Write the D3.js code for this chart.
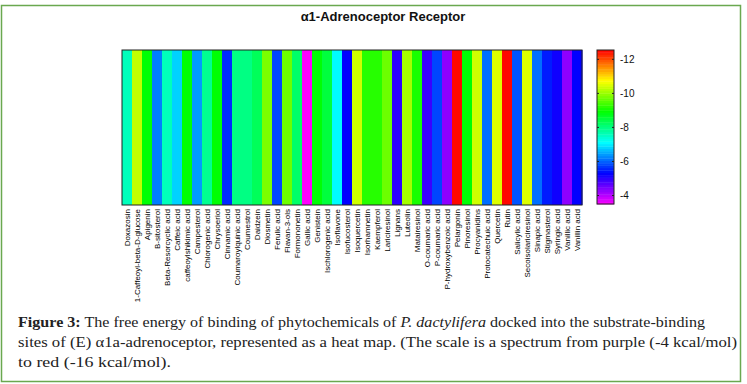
<!DOCTYPE html>
<html>
<head>
<meta charset="utf-8">
<script src="https://cdn.jsdelivr.net/npm/d3@7"></script>
<style>
body{margin:0;background:#fff;}
svg text{font-family:"Liberation Sans",Arial,sans-serif;}
svg .cap text{font-family:"Liberation Serif","Times New Roman",serif;font-size:15px;fill:#222;}
</style>
</head>
<body>
<div id="chart"></div>
<script>
var compounds = ["Doxazosin","1-Caffeoyl-beta-D-glucose","Apigenin","B-sitosterol","Beta-Resorcyclic acid",
  "Caffeic acid","caffeoylshikimic acid","Campesterol","Chlorogenic acid","Chrysoeriol","Cinnamic acid",
  "Coumaroylquinic acid","Coumestrol","Daidzein","Diosmetin","Ferulic acid","Flavan-3-ols","Formononetin",
  "Gallic acid","Genistein","Ischlorogenic acid","Isoflavone","Isofucosterol","Isoquercetin","Isorhamnetin",
  "Kaempferol","Lariciresinol","Lignans","Luteolin","Matairesinol","O-coumaric acid","P-coumaric acid",
  "P-hydroxybenzoic acid","Pelargonin","Pinoresinol","Procyanidins","Protocatechuic acid","Quercetin","Rutin",
  "Salicylic acid","Secoisolariciresinol","Sinapic acid","Stigmasterol","Syringic acid","Vanillic acid","Vanillin acid"];
// binding energy, kcal/mol
var energies = [-7.6,-10.3,-8.9,-6.2,-7.6,-6.8,-8.9,-6.4,-7.9,-8.9,-5.6,
  -8.0,-8.0,-8.3,-9.8,-5.8,-9.7,-8.2,-3.5,-8.9,-8.5,-7.1,-5.3,-10.4,-9.2,
  -9.2,-9.7,-5.0,-10.1,-9.1,-4.9,-5.8,-4.3,-12.5,-8.9,-10.4,-6.1,-10.5,-12.5,
  -5.9,-10.5,-6.1,-5.5,-5.2,-4.3,-5.3];
var cbarTicks = [-12,-10,-8,-6,-4];
var cbarDomain = [-3.5,-12.55];

var W = 747, H = 384;
var plot = {left:122, top:50, right:582, bottom:205};

var svg = d3.select("#chart").append("svg")
  .attr("width",W).attr("height",H);

// outer green frame
svg.append("rect")
  .attr("x",1.5).attr("y",5.5).attr("width",739).attr("height",376)
  .attr("fill","none").attr("stroke","#6aa84f").attr("stroke-width",1.5);

// colour: magenta (weak) -> red (strong)
var hue = d3.scaleLinear().domain(cbarDomain).range([300,0]).clamp(true);
function colorOf(v){ return d3.hsl(hue(v),1,0.5).toString(); }

var x = d3.scaleBand()
  .domain(compounds)
  .range([plot.left,plot.right]);

svg.append("g").selectAll("rect")
  .data(compounds)
  .enter().append("rect")
  .attr("x",d => x(d))
  .attr("y",plot.top)
  .attr("width",x.bandwidth()+0.5)
  .attr("height",plot.bottom-plot.top)
  .attr("fill",(d,i) => colorOf(energies[i]));

svg.append("rect")
  .attr("x",plot.left).attr("y",plot.top)
  .attr("width",plot.right-plot.left).attr("height",plot.bottom-plot.top)
  .attr("fill","none").attr("stroke","#222").attr("stroke-width",1);

// x labels, rotated
svg.append("g").selectAll("text")
  .data(compounds)
  .enter().append("text")
  .attr("transform",d => `translate(${x(d)+x.bandwidth()/2+3},${plot.bottom+4}) rotate(-90)`)
  .attr("text-anchor","end")
  .attr("font-size",8)
  .attr("fill","#000")
  .text(d => d);

// title
svg.append("text")
  .attr("x",383).attr("y",21)
  .attr("text-anchor","middle")
  .attr("font-size",13).attr("font-weight","bold")
  .attr("fill","#111")
  .text("\u03b11-Adrenoceptor Receptor");

// colour bar
var cb = {x:597, w:17, top:50, bottom:204};
var yc = d3.scaleLinear().domain(cbarDomain).range([cb.bottom,cb.top]);
var nBands = 64;
var bands = d3.range(nBands).map(i => cbarDomain[0] + (cbarDomain[1]-cbarDomain[0])*(i+0.5)/nBands);
var bandH = (cb.bottom-cb.top)/nBands;
svg.append("g").selectAll("rect")
  .data(bands)
  .enter().append("rect")
  .attr("x",cb.x)
  .attr("y",d => yc(d)-bandH/2)
  .attr("width",cb.w)
  .attr("height",bandH+0.4)
  .attr("fill",d => colorOf(d));
svg.append("rect")
  .attr("x",cb.x).attr("y",cb.top).attr("width",cb.w).attr("height",cb.bottom-cb.top)
  .attr("fill","none").attr("stroke","#222");

var cbAxis = svg.append("g")
  .attr("transform",`translate(${cb.x+cb.w},0)`)
  .call(d3.axisRight(yc).tickValues(cbarTicks).tickSize(0).tickPadding(6).tickFormat(d => String(d)));
cbAxis.select(".domain").remove();
cbAxis.selectAll("text").attr("font-size",10).attr("fill","#111")
  .attr("font-family","\"Liberation Sans\",Arial,sans-serif");
// small inner tick marks
cbarTicks.forEach(function(t){
  svg.append("line").attr("x1",cb.x).attr("x2",cb.x+2).attr("y1",yc(t)).attr("y2",yc(t)).attr("stroke","#222");
  svg.append("line").attr("x1",cb.x+cb.w-2).attr("x2",cb.x+cb.w).attr("y1",yc(t)).attr("y2",yc(t)).attr("stroke","#222");
});

// caption
var cap = svg.append("g").attr("class","cap");
var l1 = cap.append("text").attr("x",18).attr("y",327)
  .attr("textLength",687).attr("lengthAdjust","spacingAndGlyphs");
l1.append("tspan").attr("font-weight","bold").text("Figure 3:");
l1.append("tspan").text(" The free energy of binding of phytochemicals of ");
l1.append("tspan").attr("font-style","italic").text("P. dactylifera");
l1.append("tspan").text(" docked into the substrate-binding");
cap.append("text").attr("x",18).attr("y",347)
  .attr("textLength",719).attr("lengthAdjust","spacingAndGlyphs")
  .text("sites of (E) \u03b11a-adrenoceptor, represented as a heat map. (The scale is a spectrum from purple (-4 kcal/mol)");
cap.append("text").attr("x",18).attr("y",367)
  .attr("textLength",153).attr("lengthAdjust","spacingAndGlyphs")
  .text("to red (-16 kcal/mol).");
</script>
</body>
</html>
